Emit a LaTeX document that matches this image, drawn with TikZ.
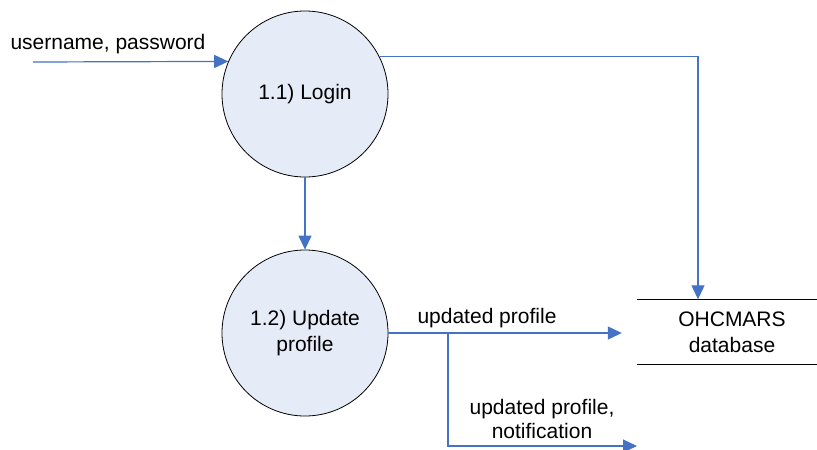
\documentclass[tikz,border=0pt]{standalone}
\usepackage{fontspec}
\setmainfont{Liberation Sans}
\usetikzlibrary{arrows.meta,positioning}
\definecolor{flowblue}{RGB}{68,114,196}
\definecolor{procfill}{RGB}{230,236,247}
\tikzset{
  proc/.style={circle,draw=black,line width=0.8pt,fill=procfill,minimum size=166pt,
    inner sep=0pt,align=center,font=\fontsize{21}{26}\selectfont},
  store/.style={minimum width=190pt,minimum height=65pt,inner sep=0pt,align=center,
    font=\fontsize{21}{26}\selectfont},
  flow/.style={flowblue,line width=1.2pt,-{Triangle[length=14pt,width=13pt]}},
  lbl/.style={align=center,inner sep=0pt,font=\fontsize{21}{24}\selectfont}
}
\begin{document}
\begin{tikzpicture}[x=1pt,y=-1pt]
\path[use as bounding box] (0,0) rectangle (817,450);
% processes and data store
\node[proc] (login) at (305,94) {1.1) Login};
\node[proc] (update) at (305,333) {1.2) Update\\profile};
\node[store] (db) at (732,332) {OHCMARS\\database};
\draw[line width=0.8pt] (db.north west) -- (db.north east);
\draw[line width=0.8pt] (db.south west) -- (db.south east);
% flows
\coordinate (src) at (33,62);
\coordinate (split) at (448,333);
\coordinate (sink) at (637,446);
\draw[flow] (src) -- (login.157);
\draw[flow] (login.27) -| ([xshift=-34pt]db.north);
\draw[flow] (login) -- (update);
\draw[flow,shorten >=15pt] (update.east) -- (update.east -| db.west);
\draw[flow] (split) |- (sink);
% labels
\node[lbl] (inlbl) at (108,44) {username, password};
\node[lbl] (outlbl) at (487,318) {updated profile};
\node[lbl] (notelbl) at (542,419) {updated profile,\\notification};
\end{tikzpicture}
\end{document}
